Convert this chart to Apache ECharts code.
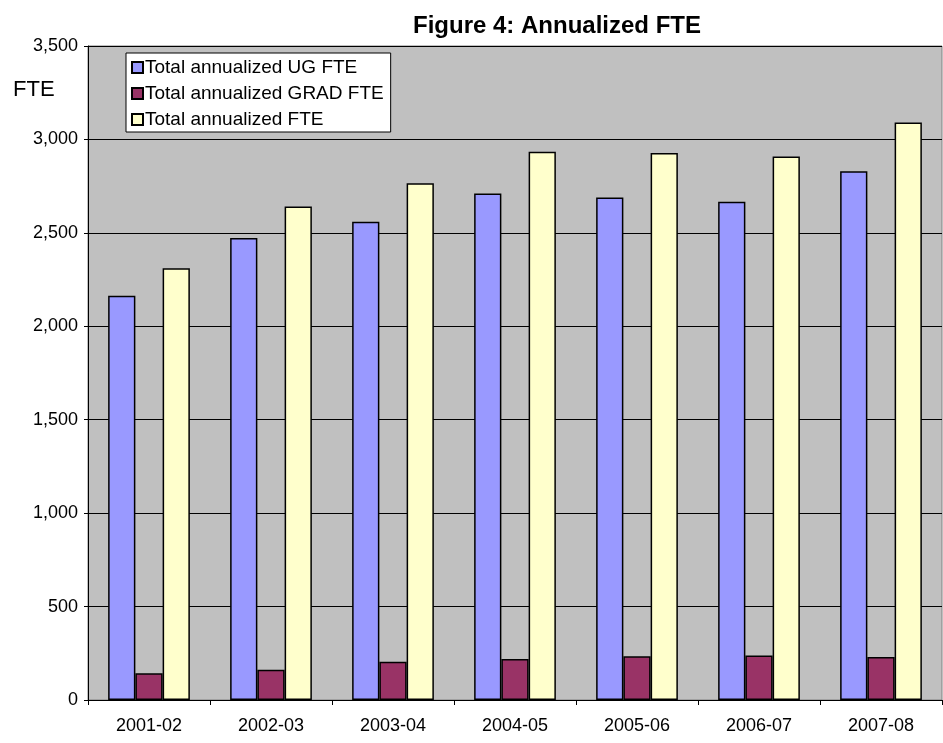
<!DOCTYPE html>
<html>
<head>
<meta charset="utf-8">
<script src="https://cdn.jsdelivr.net/npm/echarts@6/dist/echarts.min.js"></script>
<style>
  html, body { margin: 0; padding: 0; background: #fff; }
  #chart { width: 943px; height: 743px; }
</style>
</head>
<body>
<div id="chart"></div>
<script>
// years on the x axis
var years = ['2001-02', '2002-03', '2003-04', '2004-05', '2005-06', '2006-07', '2007-08']
// values
var ugFte = [2164, 2473, 2559, 2711, 2689, 2666, 2830]
var gradFte = [143, 162, 205, 220, 234, 238, 230]
var totalFte = [2311, 2641, 2766, 2934, 2927, 2909, 3091]

var seriesNames = ['Total annualized UG FTE', 'Total annualized GRAD FTE', 'Total annualized FTE']
var seriesColors = ['#9999ff', '#993366', '#ffffcc']

var chart = echarts.init(document.getElementById('chart'))

var fontFamily = 'Liberation Sans, Arial, sans-serif'

var option = {
  animation: false,
  title: [
    {
      text: 'Figure 4: Annualized FTE',
      left: 552,
      top: 9,
      textAlign: 'center',
      textStyle: { fontFamily: fontFamily, fontSize: 24, fontWeight: 'bold', color: '#000' }
    },
    {
      text: 'FTE',
      left: 8,
      top: 74,
      textStyle: { fontFamily: fontFamily, fontSize: 22, fontWeight: 'normal', color: '#000' }
    }
  ],
  legend: {
    orient: 'vertical',
    left: 126,
    top: 53,
    padding: [5, 7, 3, 5],
    backgroundColor: '#fff',
    borderColor: '#000',
    borderWidth: 1,
    borderRadius: 0,
    itemWidth: 11,
    itemHeight: 11,
    itemGap: 7,
    icon: 'rect',
    data: seriesNames,
    textStyle: { fontFamily: fontFamily, fontSize: 19, color: '#000', padding: [0, 0, 0, -3], lineHeight: 19 }
  },
  grid: {
    left: 88,
    right: 1,
    top: 46,
    bottom: 43,
    show: true,
    backgroundColor: '#c0c0c0',
    borderColor: '#808080',
    borderWidth: 1
  },
  xAxis: {
    type: 'category',
    data: years,
    axisLine: { lineStyle: { color: '#000', width: 1 } },
    axisTick: { show: true, length: 5, lineStyle: { color: '#000' } },
    axisLabel: { fontFamily: fontFamily, fontSize: 18, color: '#000', margin: 17 }
  },
  yAxis: {
    type: 'value',
    min: 0,
    max: 3500,
    interval: 500,
    axisLine: { show: true, lineStyle: { color: '#000', width: 1 } },
    axisTick: { show: true, length: 4, lineStyle: { color: '#000' } },
    splitLine: { lineStyle: { color: '#000', width: 1 } },
    axisLabel: {
      fontFamily: fontFamily,
      fontSize: 18,
      color: '#000',
      margin: 10,
      formatter: function (v) { return v.toLocaleString('en-US') }
    }
  },
  series: [ugFte, gradFte, totalFte].map(function (data, i) {
    return {
      name: seriesNames[i],
      type: 'bar',
      data: data,
      barGap: '0%',
      barCategoryGap: '33%',
      itemStyle: {
        color: seriesColors[i],
        borderColor: '#000',
        borderWidth: 1.5
      }
    }
  })
}

chart.setOption(option)
</script>
</body>
</html>
